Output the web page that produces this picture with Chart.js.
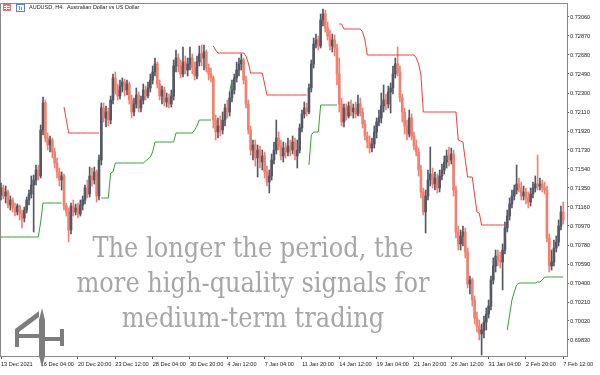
<!DOCTYPE html>
<html>
<head>
<meta charset="utf-8">
<title>AUDUSD H4</title>
<script src="https://cdn.jsdelivr.net/npm/chart.js@4/dist/chart.umd.min.js"></script>
<style>
  html, body { margin: 0; padding: 0; background: #fff; }
  canvas { display: block; }
</style>
</head>
<body>
<canvas id="chart" width="600" height="375"></canvas>
<script>
"use strict";

// AUDUSD H4 bars, 13 Dec 2021 08:00 .. 7 Feb 2022 12:00
const opens = [
  0.7128,0.7135,0.7127,0.7131,0.7118,0.7123,0.7115,0.7111,0.7117,0.7109,
  0.7105,0.7113,0.7123,0.7129,0.7138,0.7143,0.7153,0.7147,0.7193,0.7220,
  0.7185,0.7178,0.7183,0.7171,0.7160,0.7151,0.7143,0.7147,0.7117,0.7111,
  0.7093,0.7117,0.7111,0.7115,0.7109,0.7118,0.7123,0.7135,0.7129,0.7147,
  0.7143,0.7151,0.7127,0.7163,0.7215,0.7205,0.7211,0.7203,0.7223,0.7245,
  0.7233,0.7227,0.7237,0.7241,0.7233,0.7239,0.7223,0.7211,0.7219,0.7228,
  0.7215,0.7223,0.7233,0.7227,0.7235,0.7243,0.7251,0.7259,0.7239,0.7227,
  0.7233,0.7221,0.7225,0.7219,0.7227,0.7257,0.7265,0.7257,0.7249,0.7261,
  0.7253,0.7259,0.7265,0.7255,0.7247,0.7261,0.7269,0.7265,0.7271,0.7255,
  0.7249,0.7245,0.7203,0.7191,0.7197,0.7193,0.7203,0.7215,0.7211,0.7225,
  0.7233,0.7245,0.7253,0.7259,0.7263,0.7243,0.7219,0.7193,0.7173,0.7178,
  0.7165,0.7173,0.7161,0.7167,0.7151,0.7141,0.7147,0.7163,0.7173,0.7185,
  0.7177,0.7167,0.7175,0.7171,0.7177,0.7173,0.7181,0.7167,0.7173,0.7195,
  0.7209,0.7215,0.7211,0.7235,0.7259,0.7279,0.7283,0.7277,0.7303,0.7309,
  0.7295,0.7287,0.7277,0.7283,0.7275,0.7249,0.7219,0.7201,0.7215,0.7207,
  0.7217,0.7211,0.7215,0.7209,0.7219,0.7211,0.7199,0.7187,0.7181,0.7175,
  0.7179,0.7191,0.7201,0.7205,0.7217,0.7223,0.7219,0.7231,0.7235,0.7249,
  0.7259,0.7251,0.7225,0.7211,0.7197,0.7189,0.7205,0.7187,0.7177,0.7171,
  0.7153,0.7131,0.7111,0.7127,0.7143,0.7149,0.7139,0.7145,0.7135,0.7147,
  0.7153,0.7161,0.7167,0.7163,0.7169,0.7133,0.7091,0.7079,0.7087,0.7091,
  0.7071,0.7039,0.7043,0.7023,0.7005,0.6997,0.6989,0.6993,0.7001,0.7009,
  0.7017,0.7043,0.7057,0.7067,0.7063,0.7061,0.7073,0.7095,0.7107,0.7119,
  0.7127,0.7133,0.7139,0.7135,0.7127,0.7131,0.7125,0.7121,0.7129,0.7135,
  0.7139,0.7137,0.7139,0.7135,0.7133,0.7085,0.7057,0.7061,0.7075,0.7081,
  0.7097,0.7111
];
const highs = [
  0.7140,0.7138,0.7137,0.7133,0.7127,0.7125,0.7120,0.7119,0.7118,0.7113,
  0.7116,0.7126,0.7133,0.7147,0.7148,0.7158,0.7158,0.7198,0.7226,0.7223,
  0.7190,0.7187,0.7185,0.7175,0.7165,0.7155,0.7151,0.7149,0.7120,0.7115,
  0.7120,0.7123,0.7119,0.7120,0.7123,0.7127,0.7138,0.7143,0.7156,0.7155,
  0.7156,0.7153,0.7168,0.7220,0.7220,0.7217,0.7215,0.7227,0.7249,0.7251,
  0.7239,0.7243,0.7245,0.7244,0.7243,0.7241,0.7228,0.7225,0.7235,0.7231,
  0.7227,0.7239,0.7237,0.7241,0.7249,0.7257,0.7265,0.7261,0.7243,0.7237,
  0.7236,0.7230,0.7229,0.7233,0.7263,0.7273,0.7269,0.7263,0.7276,0.7267,
  0.7265,0.7276,0.7269,0.7261,0.7267,0.7277,0.7278,0.7278,0.7273,0.7259,
  0.7255,0.7247,0.7208,0.7205,0.7207,0.7211,0.7219,0.7223,0.7231,0.7243,
  0.7249,0.7261,0.7265,0.7269,0.7265,0.7247,0.7223,0.7197,0.7183,0.7183,
  0.7178,0.7177,0.7173,0.7171,0.7157,0.7153,0.7169,0.7181,0.7203,0.7191,
  0.7183,0.7181,0.7180,0.7185,0.7183,0.7187,0.7185,0.7183,0.7199,0.7213,
  0.7221,0.7220,0.7239,0.7263,0.7285,0.7289,0.7287,0.7309,0.7314,0.7313,
  0.7301,0.7293,0.7289,0.7288,0.7279,0.7265,0.7225,0.7219,0.7219,0.7221,
  0.7223,0.7219,0.7221,0.7228,0.7225,0.7215,0.7203,0.7191,0.7187,0.7185,
  0.7197,0.7205,0.7213,0.7230,0.7238,0.7229,0.7237,0.7240,0.7257,0.7265,
  0.7276,0.7257,0.7229,0.7215,0.7203,0.7213,0.7209,0.7191,0.7183,0.7175,
  0.7158,0.7135,0.7133,0.7153,0.7176,0.7155,0.7151,0.7149,0.7153,0.7159,
  0.7167,0.7173,0.7176,0.7175,0.7173,0.7137,0.7097,0.7093,0.7097,0.7095,
  0.7075,0.7047,0.7045,0.7027,0.7011,0.7003,0.6999,0.7007,0.7015,0.7023,
  0.7047,0.7065,0.7073,0.7073,0.7071,0.7079,0.7101,0.7113,0.7125,0.7133,
  0.7138,0.7158,0.7145,0.7141,0.7137,0.7135,0.7131,0.7135,0.7141,0.7147,
  0.7168,0.7145,0.7143,0.7141,0.7137,0.7089,0.7073,0.7083,0.7087,0.7103,
  0.7117,0.7121
];
const lows = [
  0.7123,0.7124,0.7120,0.7115,0.7113,0.7111,0.7107,0.7108,0.7103,0.7095,
  0.7101,0.7110,0.7118,0.7125,0.7091,0.7138,0.7143,0.7145,0.7188,0.7181,
  0.7173,0.7171,0.7165,0.7155,0.7145,0.7137,0.7133,0.7113,0.7107,0.7081,
  0.7089,0.7107,0.7108,0.7105,0.7107,0.7113,0.7119,0.7125,0.7126,0.7137,
  0.7139,0.7121,0.7123,0.7158,0.7201,0.7196,0.7197,0.7199,0.7219,0.7229,
  0.7223,0.7224,0.7231,0.7227,0.7228,0.7219,0.7205,0.7207,0.7215,0.7211,
  0.7211,0.7219,0.7223,0.7225,0.7231,0.7239,0.7247,0.7235,0.7223,0.7219,
  0.7217,0.7216,0.7215,0.7216,0.7223,0.7251,0.7251,0.7245,0.7246,0.7249,
  0.7247,0.7253,0.7249,0.7243,0.7244,0.7257,0.7257,0.7253,0.7251,0.7243,
  0.7241,0.7195,0.7183,0.7185,0.7187,0.7189,0.7197,0.7205,0.7207,0.7221,
  0.7229,0.7241,0.7247,0.7253,0.7239,0.7215,0.7189,0.7168,0.7163,0.7157,
  0.7146,0.7155,0.7153,0.7145,0.7137,0.7130,0.7143,0.7159,0.7169,0.7173,
  0.7163,0.7161,0.7165,0.7167,0.7167,0.7169,0.7163,0.7155,0.7170,0.7191,
  0.7205,0.7207,0.7209,0.7231,0.7255,0.7275,0.7273,0.7275,0.7297,0.7291,
  0.7283,0.7273,0.7271,0.7267,0.7238,0.7211,0.7197,0.7196,0.7203,0.7205,
  0.7207,0.7205,0.7205,0.7207,0.7207,0.7195,0.7183,0.7175,0.7170,0.7171,
  0.7175,0.7185,0.7197,0.7200,0.7211,0.7213,0.7215,0.7210,0.7229,0.7245,
  0.7247,0.7221,0.7201,0.7189,0.7183,0.7186,0.7183,0.7173,0.7167,0.7147,
  0.7125,0.7108,0.7090,0.7123,0.7137,0.7135,0.7133,0.7130,0.7131,0.7143,
  0.7149,0.7155,0.7157,0.7159,0.7127,0.7085,0.7073,0.7073,0.7077,0.7065,
  0.7035,0.7029,0.7017,0.6999,0.6991,0.6983,0.6968,0.6985,0.6993,0.7005,
  0.7013,0.7039,0.7051,0.7057,0.7055,0.7033,0.7069,0.7091,0.7103,0.7115,
  0.7123,0.7129,0.7131,0.7123,0.7123,0.7119,0.7115,0.7117,0.7125,0.7131,
  0.7133,0.7133,0.7131,0.7129,0.7081,0.7051,0.7053,0.7057,0.7071,0.7077,
  0.7093,0.7099
];
const closes = [
  0.7135,0.7127,0.7131,0.7118,0.7123,0.7115,0.7111,0.7117,0.7109,0.7105,
  0.7113,0.7123,0.7129,0.7138,0.7143,0.7153,0.7147,0.7193,0.7220,0.7185,
  0.7178,0.7183,0.7171,0.7160,0.7151,0.7143,0.7147,0.7117,0.7111,0.7093,
  0.7117,0.7111,0.7115,0.7109,0.7118,0.7123,0.7135,0.7129,0.7147,0.7143,
  0.7151,0.7127,0.7163,0.7215,0.7205,0.7211,0.7203,0.7223,0.7245,0.7233,
  0.7227,0.7237,0.7241,0.7233,0.7239,0.7223,0.7211,0.7219,0.7228,0.7215,
  0.7223,0.7233,0.7227,0.7235,0.7243,0.7251,0.7259,0.7239,0.7227,0.7233,
  0.7221,0.7225,0.7219,0.7227,0.7257,0.7265,0.7257,0.7249,0.7261,0.7253,
  0.7259,0.7265,0.7255,0.7247,0.7261,0.7269,0.7265,0.7271,0.7255,0.7249,
  0.7245,0.7203,0.7191,0.7197,0.7193,0.7203,0.7215,0.7211,0.7225,0.7233,
  0.7245,0.7253,0.7259,0.7263,0.7243,0.7219,0.7193,0.7173,0.7178,0.7165,
  0.7173,0.7161,0.7167,0.7151,0.7141,0.7147,0.7163,0.7173,0.7185,0.7177,
  0.7167,0.7175,0.7171,0.7177,0.7173,0.7181,0.7167,0.7173,0.7195,0.7209,
  0.7215,0.7211,0.7235,0.7259,0.7279,0.7283,0.7277,0.7303,0.7309,0.7295,
  0.7287,0.7277,0.7283,0.7275,0.7249,0.7219,0.7201,0.7215,0.7207,0.7217,
  0.7211,0.7215,0.7209,0.7219,0.7211,0.7199,0.7187,0.7181,0.7175,0.7179,
  0.7191,0.7201,0.7205,0.7217,0.7223,0.7219,0.7231,0.7235,0.7249,0.7259,
  0.7251,0.7225,0.7211,0.7197,0.7189,0.7205,0.7187,0.7177,0.7171,0.7153,
  0.7131,0.7111,0.7127,0.7143,0.7149,0.7139,0.7145,0.7135,0.7147,0.7153,
  0.7161,0.7167,0.7163,0.7169,0.7133,0.7091,0.7079,0.7087,0.7091,0.7071,
  0.7039,0.7043,0.7023,0.7005,0.6997,0.6989,0.6993,0.7001,0.7009,0.7017,
  0.7043,0.7057,0.7067,0.7063,0.7061,0.7073,0.7095,0.7107,0.7119,0.7127,
  0.7133,0.7139,0.7135,0.7127,0.7131,0.7125,0.7121,0.7129,0.7135,0.7139,
  0.7137,0.7139,0.7135,0.7133,0.7085,0.7057,0.7061,0.7075,0.7081,0.7097,
  0.7111,0.7103
];

// trailing stop: green = below price (long), red = above price (short)
const stopDown = [
  0.7086,0.7086,0.7086,0.7086,0.7086,0.7086,0.7086,0.7086,0.7086,0.7086,
  0.7086,0.7086,0.7086,0.7086,0.7086,0.7086,0.7086,0.7101,0.7120,0.7120,
  0.7120,0.7120,0.7120,0.7120,0.7120,0.7120,0.7120,null,null,null,
  null,null,null,null,null,null,null,null,null,null,
  null,null,null,0.7125,0.7125,0.7125,0.7125,0.7150,0.7151,0.7160,
  0.7160,0.7160,0.7160,0.7160,0.7160,0.7160,0.7160,0.7160,0.7160,0.7160,
  0.7160,0.7160,0.7162,0.7164,0.7166,0.7171,0.7181,0.7181,0.7181,0.7181,
  0.7181,0.7181,0.7181,0.7181,0.7181,0.7190,0.7190,0.7190,0.7190,0.7190,
  0.7190,0.7190,0.7190,0.7193,0.7197,0.7203,0.7203,0.7203,0.7203,0.7203,
  0.7203,null,null,null,null,null,null,null,0.7231,0.7243,
  null,null,null,null,null,null,null,null,null,null,
  null,null,null,null,null,null,null,null,null,null,
  null,null,null,null,null,null,null,null,null,null,
  null,null,0.7158,0.7188,0.7191,0.7191,0.7191,0.7218,0.7218,0.7218,
  0.7218,0.7218,0.7218,0.7218,0.7218,null,null,null,null,null,
  null,null,null,null,null,null,null,null,null,null,
  null,null,null,null,null,null,null,null,null,null,
  null,null,null,null,null,null,null,null,null,null,
  null,null,null,null,null,null,null,null,null,null,
  null,null,null,null,null,null,null,null,null,null,
  null,null,null,null,null,null,null,null,null,null,
  null,null,null,null,null,null,null,0.6993,0.7008,0.7023,
  0.7031,0.7038,0.7040,0.7040,0.7040,0.7040,0.7040,0.7040,0.7040,0.7040,
  0.7041,0.7041,0.7043,0.7046,0.7046,0.7046,0.7046,0.7046,0.7046,0.7046,
  0.7046,0.7046
];
const stopUp = [
  null,null,null,null,null,null,null,null,null,null,
  null,null,null,null,null,null,null,null,null,null,
  null,null,null,null,null,null,null,0.7216,0.7203,0.7190,
  0.7190,0.7190,0.7190,0.7190,0.7190,0.7190,0.7190,0.7190,0.7190,0.7190,
  0.7190,0.7190,0.7190,null,null,null,null,null,null,null,
  null,null,null,null,null,null,null,null,null,null,
  null,null,null,null,null,null,null,null,null,null,
  null,null,null,null,null,null,null,null,null,null,
  null,null,null,null,null,null,null,null,null,null,
  null,0.7277,0.7273,0.7270,0.7270,0.7270,0.7270,0.7270,0.7270,0.7270,
  0.7270,0.7270,0.7270,0.7270,0.7270,0.7267,0.7260,0.7250,0.7250,0.7250,
  0.7250,0.7250,0.7250,0.7239,0.7228,0.7228,0.7228,0.7228,0.7228,0.7228,
  0.7228,0.7228,0.7228,0.7228,0.7228,0.7228,0.7228,0.7228,0.7228,0.7228,
  0.7228,0.7228,null,null,null,null,null,null,null,null,
  null,null,null,null,null,0.7299,0.7299,0.7294,0.7294,0.7294,
  0.7294,0.7294,0.7294,0.7294,0.7294,0.7291,0.7283,0.7268,0.7268,0.7268,
  0.7268,0.7268,0.7268,0.7268,0.7268,0.7268,0.7268,0.7268,0.7268,0.7268,
  0.7268,0.7268,0.7268,0.7268,0.7268,0.7268,0.7268,0.7268,0.7265,0.7259,
  0.7248,0.7211,0.7211,0.7211,0.7211,0.7211,0.7211,0.7211,0.7211,0.7211,
  0.7211,0.7211,0.7211,0.7211,0.7211,0.7211,0.7183,0.7182,0.7181,0.7163,
  0.7146,0.7146,0.7146,0.7128,0.7111,0.7110,0.7098,0.7098,0.7098,0.7098,
  0.7098,0.7098,0.7098,0.7098,0.7098,0.7098,0.7098,null,null,null,
  null,null,null,null,null,null,null,null,null,null,
  null,null,null,null,null,null,null,null,null,null,
  null,null
];

// axes
const priceTicks = [
  0.7306, 0.7287, 0.7268, 0.7249, 0.7230, 0.7211, 0.7192, 0.7173, 0.7154,
  0.7135, 0.7116, 0.7097, 0.7078, 0.7059, 0.7040, 0.7021, 0.7002, 0.6983
];
const tickBars = [0, 17, 33, 49, 65, 81, 97, 113, 129, 145, 161, 177, 193, 209, 225, 241];
const tickLabels = [
  "13 Dec 2021", "16 Dec 04:00", "20 Dec 20:00", "23 Dec 12:00", "28 Dec 04:00",
  "30 Dec 20:00", "4 Jan 12:00", "7 Jan 04:00", "11 Jan 20:00", "14 Jan 12:00",
  "19 Jan 04:00", "21 Jan 20:00", "26 Jan 12:00", "31 Jan 04:00", "2 Feb 20:00",
  "7 Feb 12:00"
];
const title = "AUDUSD, H4:  Australian Dollar vs US Dollar";
const slogan = ["The longer the period, the", "more high-quality signals for", "medium-term trading"];

const UP = "#535864";
const DOWN = "#f2806f";
const AXIS = "#8a8a8a";

const idx = closes.map((_, i) => i);
const candleColor = (ctx) => closes[ctx.dataIndex] >= opens[ctx.dataIndex] ? UP : DOWN;

// page furniture: background, frame, caption, slogan, logo
const chrome = {
  id: "chrome",
  beforeDraw(chart) {
    const c = chart.ctx;
    c.save();
    c.fillStyle = "#fff";
    c.fillRect(0, 0, chart.width, chart.height);
    c.restore();
  },
  beforeDatasetsDraw(chart) {
    const c = chart.ctx, a = chart.chartArea;
    c.save();
    c.strokeStyle = AXIS;
    c.lineWidth = 1;
    c.beginPath();
    c.moveTo(0.5, a.bottom);
    c.lineTo(0.5, a.top + 0.5);
    c.lineTo(a.right, a.top + 0.5);
    c.stroke();
    c.restore();
  },
  afterDatasetsDraw(chart) {
    const c = chart.ctx;
    c.save();
    c.font = '28px "DejaVu Serif"';
    c.fillStyle = "rgba(150,150,150,0.85)";
    c.textAlign = "center";
    c.textBaseline = "alphabetic";
    const k = 353 / c.measureText(slogan[1]).width;
    slogan.forEach((t, j) => {
      c.save();
      c.translate(253, 257 + j * 35);
      c.scale(k, 1);
      c.fillText(t, 0, 0);
      c.restore();
    });
    c.restore();
  },
  afterDraw(chart) {
    const c = chart.ctx;
    c.save();
    // caption icons
    c.fillStyle = "#e9736b";
    c.fillRect(3, 4, 8, 7);
    c.fillStyle = "#fff";
    c.fillRect(4, 6, 6, 1);
    c.fillRect(4, 8, 6, 1);
    c.fillRect(6, 5, 1, 5);
    c.strokeStyle = "#4f86d8";
    c.strokeRect(16.5, 4.5, 8, 7);
    c.fillStyle = "#e9736b";
    c.fillRect(19, 6, 1, 4);
    c.fillRect(21, 7, 1, 3);
    // caption
    c.fillStyle = "#222";
    c.font = '5.5px "Liberation Sans"';
    c.textBaseline = "middle";
    c.fillText(title, 29, 7.5);
    // logo
    c.fillStyle = "#7d7d7d";
    const poly = (pts) => {
      c.beginPath();
      pts.forEach(([x, y], i) => (i ? c.lineTo(x, y) : c.moveTo(x, y)));
      c.closePath();
      c.fill();
    };
    poly([[42, 308], [45, 320], [45, 356], [42, 367], [39, 356], [39, 320]]);
    poly([[39, 311], [39, 317], [19, 332], [15, 332], [15, 329]]);
    c.fillRect(15, 329, 4, 18);
    c.fillRect(19, 334, 20, 4);
    c.fillRect(45, 337, 16, 4);
    c.fillRect(60, 329, 4, 17);
    c.restore();
  }
};

Chart.defaults.font.family = '"Liberation Sans", Arial, sans-serif';

new Chart(document.getElementById("chart"), {
  type: "bar",
  data: {
    datasets: [
      {
        type: "line",
        data: idx.map(i => ({ x: i, y: stopUp[i] })),
        borderColor: "#f23d3d",
        borderWidth: 1,
        pointRadius: 0,
        spanGaps: false,
        tension: 0,
        order: 0
      },
      {
        type: "line",
        data: idx.map(i => ({ x: i, y: stopDown[i] })),
        borderColor: "#35a035",
        borderWidth: 1,
        pointRadius: 0,
        spanGaps: false,
        tension: 0,
        order: 0
      },
      {
        data: idx.map(i => ({ x: i, y: [opens[i], closes[i]] })),
        backgroundColor: candleColor,
        borderWidth: 0,
        barThickness: 2,
        grouped: false,
        order: 1
      },
      {
        data: idx.map(i => ({ x: i, y: [lows[i], highs[i]] })),
        backgroundColor: candleColor,
        borderWidth: 0,
        barThickness: 1,
        grouped: false,
        order: 2
      }
    ]
  },
  options: {
    responsive: false,
    animation: false,
    devicePixelRatio: 1,
    events: [],
    layout: { padding: { top: 3, left: 0, right: 0, bottom: 0 } },
    plugins: { legend: { display: false }, tooltip: { enabled: false } },
    scales: {
      x: {
        type: "linear",
        min: -0.43,
        max: 242.6,
        offset: false,
        afterBuildTicks: (s) => { s.ticks = tickBars.map(v => ({ value: v })); },
        afterFit: (s) => { s.height = 19; s.paddingLeft = 0; s.paddingRight = 0; },
        ticks: {
          autoSkip: false,
          maxRotation: 0,
          align: "start",
          padding: 2,
          color: "#222",
          font: { size: 5.6 },
          callback: (v, i) => tickLabels[i]
        },
        grid: { drawOnChartArea: false, offset: false, tickLength: 3, color: "#555" },
        border: { color: AXIS }
      },
      y: {
        position: "right",
        min: 0.6967,
        max: 0.7320,
        beginAtZero: false,
        afterBuildTicks: (s) => { s.ticks = priceTicks.map(v => ({ value: v })); },
        afterFit: (s) => { s.width = 33; s.paddingTop = 0; s.paddingBottom = 0; },
        ticks: {
          padding: 1,
          color: "#222",
          font: { size: 5.6 },
          callback: (v) => v.toFixed(5)
        },
        grid: { drawOnChartArea: false, tickLength: 2, color: "#555" },
        border: { color: AXIS }
      }
    }
  },
  plugins: [chrome]
});
</script>
</body>
</html>
